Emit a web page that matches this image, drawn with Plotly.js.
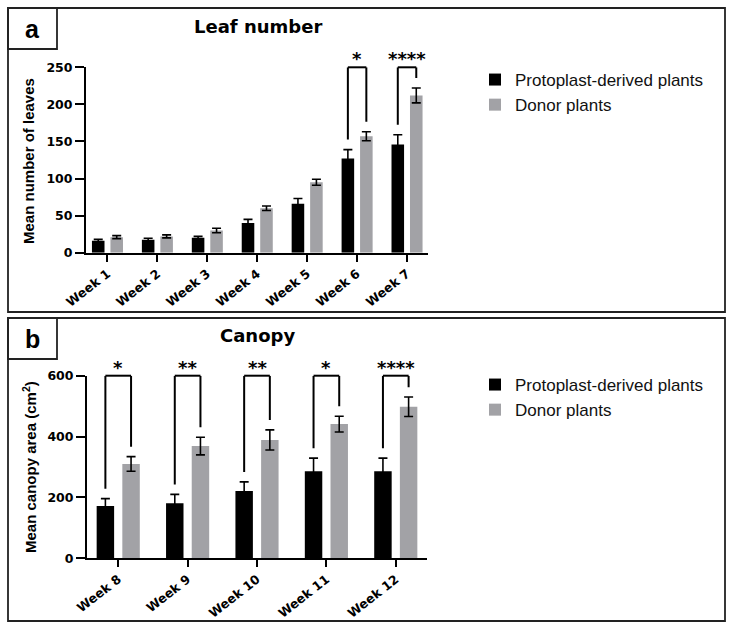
<!DOCTYPE html>
<html>
<head>
<meta charset="utf-8">
<script src="https://cdn.plot.ly/plotly-3.0.1.min.js"></script>
<style>
  html, body { margin: 0; padding: 0; background: #ffffff; }
  #chart { width: 734px; height: 629px; }
</style>
</head>
<body>
<div id="chart"></div>
<script>
// ---------- Data ----------
// Panel a: Leaf number
const weeksA = ['Week 1', 'Week 2', 'Week 3', 'Week 4', 'Week 5', 'Week 6', 'Week 7'];
const protoLeaves = [16, 17.5, 20, 40, 66, 127, 146];
const protoLeavesErr = [2, 2, 2, 5, 7, 12, 13];
const donorLeaves = [21, 22, 30, 60, 95, 157, 212];
const donorLeavesErr = [2, 2, 3, 3, 4, 6, 10];
const sigLeaves = ['', '', '', '', '', '*', '****'];

// Panel b: Canopy area (cm²)
const weeksB = ['Week 8', 'Week 9', 'Week 10', 'Week 11', 'Week 12'];
const protoCanopy = [172, 181, 221, 286, 286];
const protoCanopyErr = [24, 29, 30, 43, 43];
const donorCanopy = [310, 369, 389, 441, 498];
const donorCanopyErr = [24, 29, 33, 26, 32];
const sigCanopy = ['*', '**', '**', '*', '****'];

const seriesNames = ['Protoplast-derived plants', 'Donor plants'];

// ---------- Styling ----------
const W = 734, H = 629;
const px = v => v / W;
const py = v => 1 - v / H;

const BLACK = '#000000';
const GREY = '#a2a2a6';
const yTickFont = { family: 'DejaVu Sans, Arial, sans-serif', size: 12.5, color: '#000', weight: 'bold' };
const xTickFont = { family: 'DejaVu Sans, Arial, sans-serif', size: 12.5, color: '#000', weight: 'bold' };
const axTitleFont = { family: '"Liberation Sans", Arial, sans-serif', size: 15, color: '#000', weight: 'bold' };
const titleFont = { family: 'DejaVu Sans, Arial, sans-serif', size: 18, color: '#000', weight: 'bold' };
const legendFont = { family: '"Liberation Sans", Arial, sans-serif', size: 17, color: '#111' };
const starFont = { family: 'DejaVu Sans, Arial, sans-serif', size: 18, color: '#000', weight: 'bold' };

const BARGAP = 0.26, GROUPGAP = 0.32;
const pairOffset = (1 - BARGAP) / 4; // centre offset of each bar in a pair

function barTrace(x, y, err, name, color, xa, ya, legendId) {
  return {
    type: 'bar', x: x, y: y, name: name,
    xaxis: xa, yaxis: ya, legend: legendId,
    marker: { color: color, line: { width: 0 } },
    error_y: { type: 'data', array: err, visible: true, color: '#000', thickness: 1.6, width: 4.5 },
    hoverinfo: 'skip'
  };
}

const data = [
  barTrace(weeksA, protoLeaves, protoLeavesErr, seriesNames[0], BLACK, 'x', 'y', 'legend'),
  barTrace(weeksA, donorLeaves, donorLeavesErr, seriesNames[1], GREY, 'x', 'y', 'legend'),
  barTrace(weeksB, protoCanopy, protoCanopyErr, seriesNames[0], BLACK, 'x2', 'y2', 'legend2'),
  barTrace(weeksB, donorCanopy, donorCanopyErr, seriesNames[1], GREY, 'x2', 'y2', 'legend2')
];

// ---------- Significance brackets ----------
const shapes = [];
const annotations = [];

function addBrackets(sig, pVals, pErr, dVals, dErr, yMax, xa, ya) {
  const gap = 0.054 * yMax;
  sig.forEach((s, i) => {
    if (!s) return;
    const xl = i - pairOffset, xr = i + pairOffset;
    const line = { color: '#000', width: 2 };
    shapes.push({ type: 'line', xref: xa, yref: ya, x0: xl, x1: xl, y0: pVals[i] + pErr[i] + gap, y1: yMax, line: line });
    shapes.push({ type: 'line', xref: xa, yref: ya, x0: xr, x1: xr, y0: dVals[i] + dErr[i] + gap, y1: yMax, line: line });
    shapes.push({ type: 'line', xref: xa, yref: ya + ' domain', x0: xl, x1: xr, y0: 1, y1: 1, line: line });
    annotations.push({ xref: xa, yref: ya + ' domain', x: i, y: 1, yanchor: 'bottom', yshift: -4,
      text: s, showarrow: false, font: starFont });
  });
}
addBrackets(sigLeaves, protoLeaves, protoLeavesErr, donorLeaves, donorLeavesErr, 250, 'x', 'y');
addBrackets(sigCanopy, protoCanopy, protoCanopyErr, donorCanopy, donorCanopyErr, 600, 'x2', 'y2');

// ---------- Panel frames and labels ----------
const frameLine = { color: '#222', width: 1.8 };
function rect(x0, y0, x1, y1) {
  shapes.push({ type: 'rect', xref: 'paper', yref: 'paper', x0: px(x0), x1: px(x1), y0: py(y0), y1: py(y1), line: frameLine, fillcolor: 'rgba(0,0,0,0)' });
}
rect(8, 8, 725, 312);
rect(8, 8, 57, 49);
rect(8, 318, 725, 621);
rect(8, 318, 57, 359);

function textAnn(text, x, y, font, extra) {
  annotations.push(Object.assign({ xref: 'paper', yref: 'paper', x: px(x), y: py(y), xanchor: 'center', yanchor: 'middle',
    text: text, showarrow: false, font: font }, extra || {}));
}
const panelLetterFont = { family: '"Liberation Sans", Arial, sans-serif', size: 25, color: '#000', weight: 'bold' };
textAnn('a', 32.5, 29, panelLetterFont);
textAnn('b', 32.5, 339, panelLetterFont);
textAnn('Leaf number', 258, 27, titleFont);
textAnn('Canopy', 257, 335, titleFont);
textAnn('Mean number of leaves', 28, 161, axTitleFont, { textangle: -90 });
textAnn('Mean canopy area (cm<sup>2</sup>)', 29, 467, axTitleFont, { textangle: -90 });

// ---------- Axes ----------
function xAxis(domain, range, anchor) {
  return {
    domain: domain, range: range, anchor: anchor, type: 'category',
    showline: true, linecolor: '#000', linewidth: 2,
    ticks: 'outside', ticklen: 7, tickwidth: 2, tickcolor: '#000',
    tickangle: -38, tickfont: xTickFont, showgrid: false, zeroline: false, fixedrange: true
  };
}
function yAxis(domain, range, dtick, anchor) {
  return {
    domain: domain, range: range, dtick: dtick, tick0: 0, anchor: anchor,
    showline: true, linecolor: '#000', linewidth: 2,
    ticks: 'outside', ticklen: 9, tickwidth: 2, tickcolor: '#000',
    tickfont: yTickFont, showgrid: false, zeroline: false, fixedrange: true
  };
}

const layout = {
  width: W, height: H,
  margin: { l: 0, r: 0, t: 0, b: 0 },
  paper_bgcolor: '#ffffff', plot_bgcolor: 'rgba(0,0,0,0)',
  barmode: 'group', bargap: BARGAP, bargroupgap: GROUPGAP,
  xaxis: xAxis([px(86), px(428)], [-0.43, 6.42], 'y'),
  yaxis: yAxis([py(252.7), py(67.3)], [0, 250], 50, 'x'),
  xaxis2: xAxis([px(87), px(427)], [-0.45, 4.45], 'y2'),
  yaxis2: yAxis([py(558.3), py(375.7)], [0, 600], 200, 'x2'),
  showlegend: true,
  legend: { x: px(475), xanchor: 'left', y: py(62), yanchor: 'top', font: legendFont, bgcolor: 'rgba(0,0,0,0)', traceorder: 'normal' },
  legend2: { x: px(475), xanchor: 'left', y: py(367), yanchor: 'top', font: legendFont, bgcolor: 'rgba(0,0,0,0)', traceorder: 'normal' },
  shapes: shapes,
  annotations: annotations
};

Plotly.newPlot('chart', data, layout, { staticPlot: true, displayModeBar: false });
</script>
</body>
</html>
